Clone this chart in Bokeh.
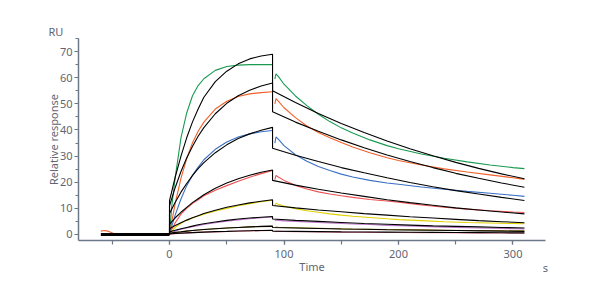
from bokeh.plotting import figure
from bokeh.models import SingleIntervalTicker, FixedTicker, Title, LinearAxis
from bokeh.embed import file_html
from bokeh.resources import INLINE

# ---- data ----
baseline_t = [-60, 0]
baseline_v = [0, 0]

orange_pre_t = [-60, -57, -54, -51, -48, -46]
orange_pre_v = [1.3, 1.5, 1.3, 0.8, 0.3, 0.0]

# measured sensorgrams: association (ta) and dissociation (td)
ta = [0, 2, 5, 10, 15, 20, 25, 30, 40, 50, 60, 70, 80, 90]
td = [92, 93, 95, 100, 110, 120, 130, 140, 150, 160, 175, 190, 200, 220, 240, 260, 280, 300, 310]

green_a = [0, 11, 22, 37, 46.5, 53, 57, 59.6, 62.8, 64.3, 64.8, 65, 65, 65]
green_d = [59.5, 61.5, 60.5, 57.5, 53, 49.3, 46, 43.2, 40.8, 38.8, 36.2, 34, 32.8, 30.8, 29.2, 27.8, 26.6, 25.6, 25.2]
orange_a = [0, 5, 12, 21.5, 29, 35, 39.5, 43, 48, 51, 52.8, 53.8, 54.3, 54.6]
orange_d = [50, 52, 51, 48.5, 44.7, 41.5, 39, 37, 35.2, 33.5, 31.3, 29.4, 28.3, 26.6, 25.1, 23.9, 22.8, 21.7, 21.1]
blue_a = [0, 3.2, 7.5, 13.6, 18.7, 22.6, 25.8, 28.6, 32.6, 35.4, 37.3, 38.5, 39.3, 39.8]
blue_d = [35, 37.3, 36.5, 34, 30.5, 28, 26, 24.5, 23.1, 22, 20.7, 19.7, 19.2, 18.2, 17.3, 16.5, 15.8, 15, 14.6]
red_a = [0, 2, 4.5, 7.8, 10, 11.8, 13.3, 14.8, 16.9, 18.7, 20.4, 21.9, 23.3, 24.5]
red_d = [21, 22.6, 22, 20.7, 18.8, 17.4, 16.3, 15.5, 14.8, 14.2, 13.4, 12.8, 12.4, 11.3, 10.4, 9.7, 9.1, 8.6, 8.4]
yellow_a = [0, 1.2, 2.8, 4.3, 5.4, 6.3, 7.1, 7.8, 9, 10, 11, 11.8, 12.5, 13.1]
yellow_d = [11, 12, 11.6, 10.9, 9.9, 9.1, 8.5, 7.9, 7.4, 7.0, 6.5, 6.0, 5.7, 5.3, 4.9, 4.6, 4.4, 4.2, 4.1]
purple_a = [0, 0.6, 1.3, 2, 2.5, 3, 3.4, 3.8, 4.5, 5.1, 5.6, 6, 6.4, 6.7]
purple_d = [5.2, 5.5, 5.4, 5.2, 5.0, 4.8, 4.6, 4.4, 4.2, 4.0, 3.8, 3.5, 3.4, 3.1, 2.8, 2.6, 2.4, 2.2, 2.1]
olive_a = [0, 0.3, 0.6, 1.0, 1.3, 1.5, 1.7, 1.9, 2.2, 2.5, 2.7, 2.9, 3.0, 3.1]
olive_d = [2.7, 2.8, 2.75, 2.7, 2.6, 2.5, 2.4, 2.3, 2.2, 2.1, 2.0, 1.9, 1.85, 1.75, 1.65, 1.55, 1.5, 1.4, 1.4]
pink_a = [0, 0.1, 0.3, 0.5, 0.6, 0.7, 0.8, 0.9, 1.0, 1.15, 1.25, 1.35, 1.45, 1.5]
pink_d = [1.1, 1.2, 1.2, 1.15, 1.1, 1.05, 1.0, 0.95, 0.9, 0.85, 0.8, 0.78, 0.75, 0.7, 0.65, 0.6, 0.58, 0.55, 0.5]

# fitted curves (black): association (fa_t) and dissociation (fd_t)
fa_t = [0, 5, 10, 15, 20, 25, 30, 40, 50, 60, 70, 80, 90]
fd_t = [90, 110, 130, 150, 170, 190, 210, 230, 250, 270, 290, 310]

fit1_a = [13, 22, 30, 37, 43, 48, 52.5, 58.5, 62.5, 65.3, 67.2, 68.3, 69]
fit1_d = [55, 50.5, 46.3, 42.5, 39, 35.8, 32.8, 30.1, 27.6, 25.3, 23.2, 21.3]
fit2_a = [11, 18, 24.1, 29.3, 33.7, 37.6, 40.9, 46.2, 50.2, 53.1, 55.2, 56.8, 58]
fit2_d = [47, 43, 39.5, 36.2, 33.2, 30.4, 27.9, 25.6, 23.4, 21.5, 19.7, 18.1]
fit3_a = [8, 12.3, 16.2, 19.5, 22.5, 25.2, 27.5, 31.3, 34.3, 36.7, 38.5, 39.9, 41]
fit3_d = [33, 30.3, 27.9, 25.6, 23.6, 21.7, 19.9, 18.3, 16.8, 15.5, 14.2, 13]
fit4_a = [4, 6.4, 8.5, 10.4, 12.2, 13.7, 15.2, 17.7, 19.7, 21.3, 22.7, 23.8, 24.7]
fit4_d = [20.7, 18.9, 17.3, 15.9, 14.6, 13.3, 12.2, 11.2, 10.2, 9.4, 8.6, 7.9]
fit5_a = [2.2, 3.4, 4.5, 5.5, 6.4, 7.2, 8.0, 9.3, 10.4, 11.3, 12.1, 12.7, 13.3]
fit5_d = [11.1, 10.2, 9.4, 8.7, 8.0, 7.4, 6.8, 6.3, 5.8, 5.3, 4.9, 4.5]
fit6_a = [1, 1.6, 2.2, 2.7, 3.2, 3.7, 4.1, 4.8, 5.4, 5.9, 6.3, 6.6, 6.9]
fit6_d = [5.9, 5.4, 5.0, 4.6, 4.2, 3.9, 3.6, 3.3, 3.1, 2.9, 2.7, 2.5]
fit7_a = [0.5, 0.8, 1.0, 1.3, 1.5, 1.7, 1.9, 2.2, 2.5, 2.7, 2.9, 3.1, 3.2]
fit7_d = [2.7, 2.5, 2.3, 2.1, 2.0, 1.8, 1.7, 1.6, 1.5, 1.4, 1.3, 1.2]
fit8_a = [0.3, 0.4, 0.5, 0.6, 0.7, 0.8, 0.9, 1.1, 1.2, 1.35, 1.45, 1.55, 1.6]
fit8_d = [1.3, 1.2, 1.1, 1.0, 0.95, 0.9, 0.85, 0.8, 0.75, 0.7, 0.65, 0.6]

x_ticks_major = 100
y_ticks_major = 10

# ---- styling ----
FONT = "Noto Sans"
TXT = "#5f6672"
AXC = "#6c7888"

p = figure(width=600, height=300, output_backend="svg", toolbar_location=None,
           x_range=(-79.5, 328.4), y_range=(-2.3, 75),
           min_border_left=78, min_border_right=55, min_border_top=38, min_border_bottom=60)
p.outline_line_color = None
p.grid.visible = False
p.background_fill_color = "white"

p.xaxis.ticker = SingleIntervalTicker(interval=x_ticks_major, num_minor_ticks=2)
p.yaxis.ticker = SingleIntervalTicker(interval=y_ticks_major, num_minor_ticks=2)
p.xaxis.axis_label = "Time"
p.yaxis.axis_label = "Relative response"
for ax in (p.xaxis, p.yaxis):
    ax.axis_line_color = AXC
    ax.axis_line_width = 1.5
    ax.major_tick_line_color = AXC
    ax.minor_tick_line_color = AXC
    ax.major_tick_line_width = 1.2
    ax.minor_tick_line_width = 1.2
    ax.major_tick_in = 0
    ax.minor_tick_in = 0
    ax.major_label_text_font = FONT
    ax.major_label_text_font_size = "11px"
    ax.major_label_text_color = TXT
    ax.axis_label_text_font = FONT
    ax.axis_label_text_font_size = "11px"
    ax.axis_label_text_color = TXT
    ax.axis_label_text_font_style = "normal"
p.xaxis.major_tick_out = 4
p.xaxis.minor_tick_out = 4
p.xaxis.major_label_standoff = 5
p.xaxis.axis_label_standoff = -2
p.yaxis.major_tick_out = 4
p.yaxis.minor_tick_out = 3
p.yaxis.major_label_standoff = 2
p.yaxis.axis_label_standoff = -4

# measured data
series = [
    ("#1a9a50", green_a, green_d),
    ("#f0602a", orange_a, orange_d),
    ("#3b6fc4", blue_a, blue_d),
    ("#f05050", red_a, red_d),
    ("#e0d000", yellow_a, yellow_d),
    ("#c078cc", purple_a, purple_d),
    ("#a08a20", olive_a, olive_d),
    ("#f07898", pink_a, pink_d),
]
for col, a, d in series:
    p.line(ta, a, line_color=col, line_width=1.1)
    p.line(td, d, line_color=col, line_width=1.1)
p.line(orange_pre_t, orange_pre_v, line_color="#f0602a", line_width=1.1)

# fits
fits = [(fit1_a, fit1_d), (fit2_a, fit2_d), (fit3_a, fit3_d), (fit4_a, fit4_d),
        (fit5_a, fit5_d), (fit6_a, fit6_d), (fit7_a, fit7_d), (fit8_a, fit8_d)]
for a, d in fits:
    xs = [baseline_t[1]] + fa_t + fd_t
    ys = [baseline_v[1]] + a + d
    p.line(xs, ys, line_color="black", line_width=1.1)
p.line(baseline_t, baseline_v, line_color="black", line_width=3)

# unit labels
ru = Title(text="RU", align="left", offset=-30, standoff=0, text_font=FONT,
           text_font_size="11px", text_color=TXT, text_font_style="normal")
p.add_layout(ru, "above")

s_axis = LinearAxis(ticker=FixedTicker(ticks=[]), axis_label="s",
                    axis_line_color=None, major_tick_line_color=None,
                    minor_tick_line_color=None, major_label_standoff=0,
                    major_tick_out=0, minor_tick_out=0,
                    axis_label_standoff=-17, axis_label_align="end",
                    axis_label_text_font=FONT, axis_label_text_font_size="11px",
                    axis_label_text_color=TXT, axis_label_text_font_style="normal")
p.add_layout(s_axis, "below")

open("out.html", "w").write(file_html(p, INLINE))
